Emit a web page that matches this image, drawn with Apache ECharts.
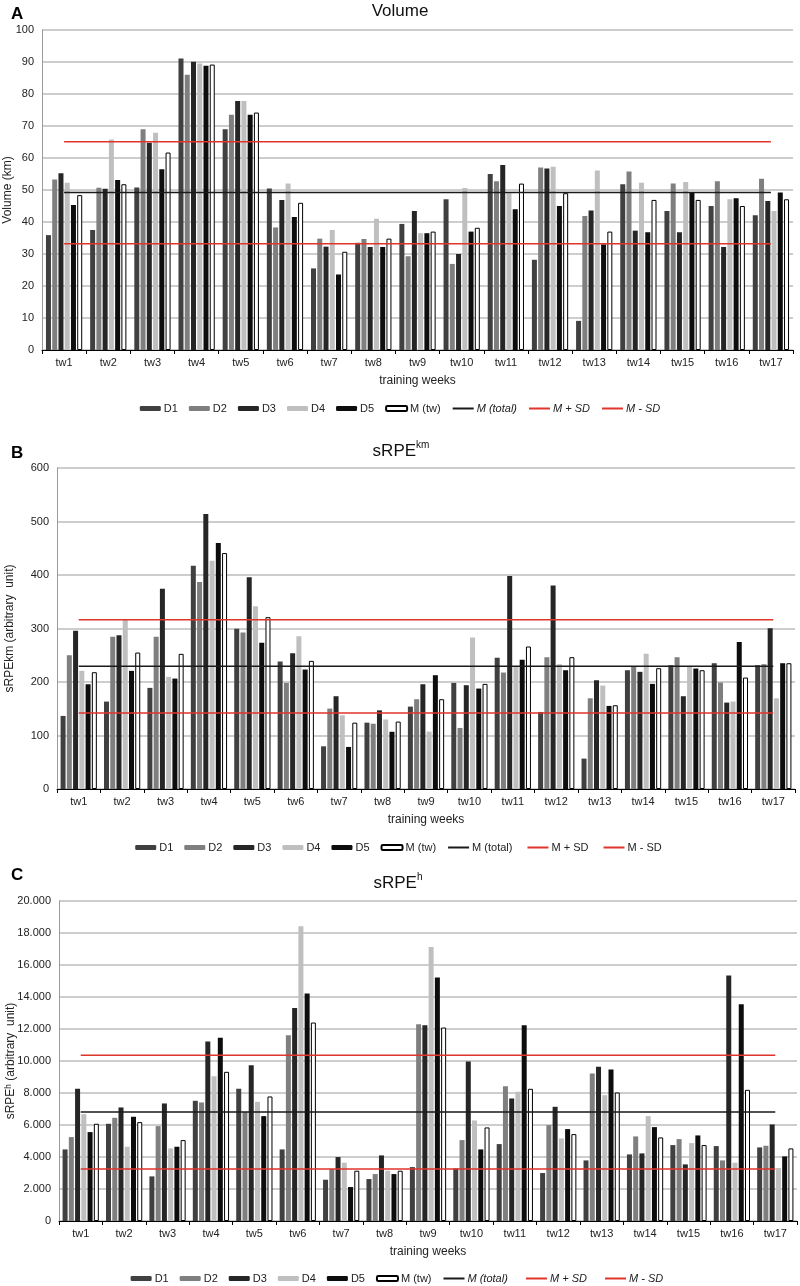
<!DOCTYPE html>
<html>
<head>
<meta charset="utf-8">
<script src="https://cdn.jsdelivr.net/npm/echarts@6/dist/echarts.min.js"></script>
<style>html,body{margin:0;padding:0;background:#fff}#c{width:800px;height:1286px}</style>
</head>
<body>
<div id="c"></div>
<script>
const categories = ['tw1','tw2','tw3','tw4','tw5','tw6','tw7','tw8','tw9','tw10','tw11','tw12','tw13','tw14','tw15','tw16','tw17'];
const seriesNames = ['D1','D2','D3','D4','D5','M (tw)'];

// Panel A: Volume (km)
const volD1 = [35.9,37.5,50.8,91.1,69.0,50.5,25.5,33.5,39.4,47.1,55.0,28.2,9.1,51.8,43.4,45.0,42.1];
const volD2 = [53.3,50.7,69.0,86.0,73.5,38.3,34.8,34.7,29.3,26.9,52.7,57.0,41.9,55.8,52.0,52.7,53.5];
const volD3 = [55.2,50.4,64.8,90.1,77.8,46.9,32.3,32.2,43.4,30.0,57.8,56.7,43.6,37.3,36.8,32.2,46.6];
const volD4 = [52.3,65.8,67.9,89.5,77.8,52.0,37.5,41.0,36.5,50.6,49.0,57.3,56.1,52.3,52.5,47.1,43.4];
const volD5 = [45.3,53.1,56.5,88.8,73.5,41.6,23.6,32.2,36.5,37.0,44.0,45.0,33.0,36.8,49.2,47.4,49.2];
const volM  = [48.4,51.8,61.7,89.2,74.2,46.0,30.7,34.8,37.0,38.2,52.0,49.0,37.0,46.9,46.9,45.0,47.1];
const volMTotal = 49.2, volMPlusSD = 65.1, volMMinusSD = 33.2;

// Panel B: sRPEkm
const kmD1 = [136.6,163.4,189.0,417.3,299.4,238.3,79.8,124,154,198.3,245.1,144,56.8,222,231.4,235.1,231.4];
const kmD2 = [250,284.4,284.4,386.7,292.5,198.3,150.3,122,167.8,114.1,217.7,246.4,169.6,229,246.4,199,233.3];
const kmD3 = [296,287.5,374.2,514,396,253.9,173.4,147,195.8,194,398,380.5,203.3,219,173.4,161.5,300.6];
const kmD4 = [220.8,316.2,209.6,426.6,341.8,285.7,137.8,130,107.3,283.2,229,233.3,193.3,252.6,229,163.4,169.6];
const kmD5 = [195.8,220.8,206.4,459.7,273.2,223.3,78.6,107,212.7,187.7,241.4,222,155.3,196.5,225.2,275,235.1];
const kmM  = [218.3,255,252.6,441,321.2,239.5,124,126,167.8,196.5,266.3,246.4,156.5,225.8,222,208.3,235.1];
const kmMTotal = 229.5, kmMPlusSD = 316.2, kmMMinusSD = 142.2;

// Panel C: sRPEh
const hD1 = [4474,6077,2789,7513,8262,4474,2580,2622,3371,3288,4807,2997,3787,4162,4745,4682,4599];
const hD2 = [5244,6451,5931,7409,6805,11612,3246,2934,12299,5057,8428,5993,9219,5286,5119,3787,4703];
const hD3 = [8262,7096,7346,11217,9739,13318,3996,4100,12236,9968,7658,7138,9635,4224,3538,15337,6035];
const hD4 = [6680,4641,4537,9052,7450,18417,3642,3142,17127,6285,8074,5161,7866,6555,4870,3642,3309];
const hD5 = [5556,6514,4641,11446,6555,14213,2123,2934,15212,4474,12236,5744,9469,5868,5348,13547,4037];
const hM  = [6077,6181,5057,9323,7783,12403,3142,3142,12091,5848,8262,5431,8033,5223,4745,8199,4537];
const hMTotal = 6805, hMPlusSD = 10363, hMMinusSD = 3246;

const yTicksA = {min:0, max:100, interval:10};
const yTicksB = {min:0, max:600, interval:100};
const yTicksC = {min:0, max:20000, interval:2000};

const FONT = 'Liberation Sans, Arial, sans-serif';
const barColors = ['#404040','#7f7f7f','#262626','#bfbfbf','#0d0d0d','#ffffff'];

function grids() {
  const base = {containLabel:false, outerBoundsMode:'none'};
  return [
    Object.assign({left:42, right:7, top:30, height:320}, base),
    Object.assign({left:57, right:5, top:468, height:321}, base),
    Object.assign({left:59, right:3, top:901, height:320}, base)
  ];
}

function xAxis(i) {
  return {
    type:'category', gridIndex:i, data:categories, boundaryGap:true,
    axisLine:{show:true, lineStyle:{color:'#000', width:1}},
    axisTick:{show:true, interval:0, length:4, lineStyle:{color:'#000'}},
    axisLabel:{color:'#222', fontSize:11, fontFamily:FONT, margin:7, interval:0},
    name:'training weeks', nameLocation:'middle', nameGap:25, nameMoveOverlap:false,
    nameTextStyle:{color:'#222', fontSize:12, fontFamily:FONT}
  };
}

function dotFmt(v) {
  if (v === 0) return '0';
  return String(v).replace(/\B(?=(\d{3})+(?!\d))/g, '.');
}

function yAxis(i, ticks, name, gap, fmt) {
  return {
    type:'value', gridIndex:i, min:ticks.min, max:ticks.max, interval:ticks.interval,
    axisLine:{show:true, lineStyle:{color:'#9a9a9a', width:1}},
    axisTick:{show:false},
    splitLine:{show:true, lineStyle:{color:'#bcbcbc', width:1.5}},
    axisLabel:{color:'#222', fontSize:11, fontFamily:FONT, margin:8, formatter: fmt || null},
    name:name, nameLocation:'middle', nameGap:gap, nameRotate:90, nameMoveOverlap:false,
    nameTextStyle:{color:'#222', fontSize:12, fontFamily:FONT}
  };
}

function barSeries(i, arrays) {
  return arrays.map((arr, k) => ({
    type:'bar', name:seriesNames[k], xAxisIndex:i, yAxisIndex:i, data:arr,
    barWidth:5, barGap:'25%',
    itemStyle: k === 5 ? {color:'#ffffff', borderColor:'#000', borderWidth:1} : {color:barColors[k]},
    z:2
  }));
}

function lineSeries(i, name, value, color) {
  return {
    type:'line', name:name, xAxisIndex:i, yAxisIndex:i,
    data: categories.map(() => value),
    symbol:'circle', showSymbol:false,
    lineStyle:{color:color, width:1.5}, itemStyle:{color:color},
    z:3, silent:true
  };
}

// Legend names need to be unique per panel so that each legend is linked to its own panel
function lineNames(i) {
  const suf = i===1 ? ' ' : (i===0 ? '' : '  ');
  return ['M (total)'+suf, 'M + SD'+suf, 'M - SD'+suf];
}

function legend(i, top, italic) {
  const st = italic ? {fontStyle:'italic'} : {};
  const ln = lineNames(i);
  const hide = {opacity:0};
  return {
    top:top, left:'center', itemWidth:21, itemHeight:5, itemGap:11,
    textStyle:{color:'#222', fontSize:11, fontFamily:FONT, padding:[0,0,0,-2]},
    data:[
      {name:'D1'},{name:'D2'},{name:'D3'},{name:'D4'},{name:'D5'},{name:'M (tw)'},
      {name:ln[0], textStyle:st, itemStyle:hide},
      {name:ln[1], textStyle:st, itemStyle:hide},
      {name:ln[2], textStyle:st, itemStyle:hide}
    ]
  };
}

const panels = [
  {bars:[volD1,volD2,volD3,volD4,volD5,volM], lines:[volMTotal,volMPlusSD,volMMinusSD]},
  {bars:[kmD1,kmD2,kmD3,kmD4,kmD5,kmM], lines:[kmMTotal,kmMPlusSD,kmMMinusSD]},
  {bars:[hD1,hD2,hD3,hD4,hD5,hM], lines:[hMTotal,hMPlusSD,hMMinusSD]}
];

let series = [];
panels.forEach((p, i) => {
  series = series.concat(barSeries(i, p.bars));
  const ln = lineNames(i);
  series.push(lineSeries(i, ln[0], p.lines[0], '#1a1a1a'));
  series.push(lineSeries(i, ln[1], p.lines[1], '#e0352b'));
  series.push(lineSeries(i, ln[2], p.lines[2], '#e0352b'));
});

const titleStyle = {color:'#111', fontSize:17, fontWeight:'normal', fontFamily:FONT};
const letterStyle = {color:'#000', fontSize:17, fontWeight:'bold', fontFamily:FONT};
const supRich = {
  a:{fontSize:17, color:'#111', fontFamily:FONT, lineHeight:22},
  s:{fontSize:10, color:'#111', fontFamily:FONT, verticalAlign:'top', lineHeight:14}
};

const option = {
  animation:false,
  backgroundColor:'#fff',
  title:[
    {text:'A', left:6, top:1, textStyle:letterStyle},
    {text:'Volume', left:395, textAlign:'center', top:-2, textStyle:titleStyle},
    {text:'B', left:6, top:440, textStyle:letterStyle},
    {text:'{a|sRPE}{s|km}', left:396, textAlign:'center', top:435,
      textStyle:Object.assign({}, titleStyle, {rich:supRich})},
    {text:'C', left:6, top:862, textStyle:letterStyle},
    {text:'{a|sRPE}{s|h}', left:393, textAlign:'center', top:867,
      textStyle:Object.assign({}, titleStyle, {rich:supRich})}
  ],
  legend:[legend(0, 398, true), legend(1, 837, false), legend(2, 1268, true)],
  grid:grids(),
  xAxis:[xAxis(0), xAxis(1), xAxis(2)],
  yAxis:[
    yAxis(0, yTicksA, 'Volume (km)', 28),
    yAxis(1, yTicksB, 'sRPEkm (arbitrary  unit)', 41),
    yAxis(2, yTicksC, 'sRPEʰ (arbitrary  unit)', 42, dotFmt)
  ],
  series:series
};

const chart = echarts.init(document.getElementById('c'), null, {renderer:'canvas'});
chart.setOption(option);
</script>
</body>
</html>
